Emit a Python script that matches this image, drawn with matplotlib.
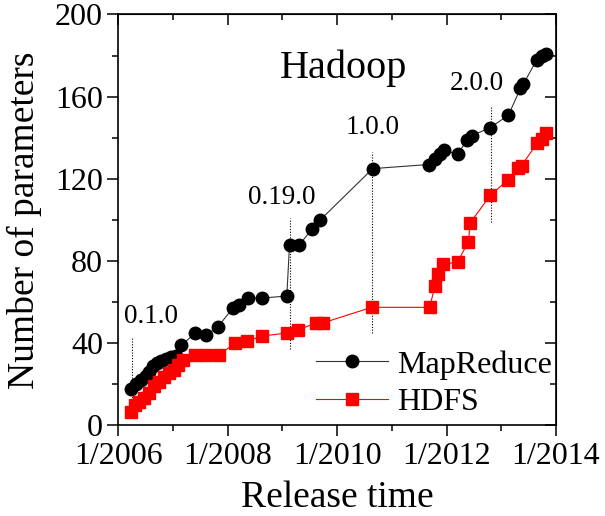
import matplotlib
matplotlib.use('Agg')
import matplotlib.pyplot as plt

plt.rcParams['font.family'] = ['Liberation Serif', 'DejaVu Serif']

# MapReduce: release date (fractional year) and number of parameters
mr_time = [2006.23, 2006.33, 2006.42, 2006.51, 2006.56, 2006.63, 2006.70, 2006.78,
           2006.87, 2006.97, 2007.06, 2007.15, 2007.41, 2007.61, 2007.82, 2008.09,
           2008.20, 2008.38, 2008.62, 2009.08, 2009.13, 2009.31, 2009.54, 2009.69,
           2010.65, 2011.67, 2011.79, 2011.88, 2011.95, 2012.20, 2012.38, 2012.46,
           2012.80, 2013.13, 2013.35, 2013.40, 2013.65, 2013.74, 2013.82]
mr_params = [18, 20, 22, 24, 26, 29, 30.5, 31.5,
             32.5, 33.5, 34, 39, 45, 44, 48, 57,
             58.5, 62, 62, 63, 88, 88, 95.5, 100,
             125, 127, 129.5, 132, 134, 132, 139, 141,
             145, 151, 164, 166, 178, 180, 181]

# HDFS
hdfs_time = [2006.23, 2006.31, 2006.38, 2006.47, 2006.56, 2006.65, 2006.74, 2006.83,
             2006.93, 2007.02, 2007.10, 2007.19, 2007.40, 2007.60, 2007.85, 2008.13,
             2008.35, 2008.62, 2009.08, 2009.29, 2009.62, 2009.75, 2010.63, 2011.69,
             2011.79, 2011.85, 2011.94, 2012.20, 2012.40, 2012.43, 2012.80, 2013.12,
             2013.31, 2013.37, 2013.66, 2013.74, 2013.81]
hdfs_params = [6.7, 10, 11.5, 13.5, 16, 19, 21, 23.5,
               25.5, 27, 29.5, 32, 34.5, 34.5, 34.5, 40,
               41, 43.5, 45, 46.5, 50, 50, 57.5, 57.5,
               68, 73.5, 78.5, 79.5, 89.5, 98.5, 112, 119.5,
               125.5, 126.5, 137.5, 139.5, 142.5]

# major versions
versions = ['0.1.0', '0.19.0', '1.0.0', '2.0.0']
version_time = [2006.25, 2009.14, 2010.63, 2012.81]
version_lo = [4, 37, 45, 99]
version_hi = [43, 101, 133, 155.5]

year_ticks = [2006, 2008, 2010, 2012, 2014]
year_labels = ['1/2006', '1/2008', '1/2010', '1/2012', '1/2014']

fig = plt.figure(figsize=(6.05, 5.16), dpi=100)
ax = fig.add_axes([0.1955, 0.1754, 0.7235, 0.7965])

ax.plot(mr_time, mr_params, color='#333333', lw=0.8, marker='o', ms=9,
        mfc='black', mec='black', label='MapReduce', zorder=3)
ax.plot(hdfs_time, hdfs_params, color='red', lw=0.8, marker='s', ms=8.5,
        mfc='red', mec='red', label='HDFS', zorder=3)

ax.vlines(version_time, version_lo, version_hi, colors='black',
          linestyles=(0, (1, 1.5)), lw=0.8, zorder=2)

# label placement (x, y) for each version tag
label_xy = [(2006.6, 53), (2008.99, 111), (2010.64, 144.8), (2012.55, 166.5)]
for name, (lx, ly) in zip(versions, label_xy):
    ax.text(lx, ly, name, fontsize=19.5, ha='center', va='center')

ax.text(2010.11, 169, 'Hadoop', fontsize=29, ha='center', va='baseline')

ax.set_xlim(2006, 2014)
ax.set_ylim(0, 200)
ax.set_xticks(year_ticks)
ax.set_xticklabels(year_labels)
ax.set_xticks(range(2007, 2014, 2), minor=True)
ax.set_yticks(range(0, 201, 40))
ax.set_yticks(range(20, 200, 40), minor=True)

ax.tick_params(which='both', direction='out', width=1.1, labelsize=23)
ax.tick_params(which='major', length=8)
ax.tick_params(which='minor', length=4.5)
ax.tick_params(axis='x', pad=4)
ax.tick_params(axis='y', pad=3)
for s in ax.spines.values():
    s.set_linewidth(1.2)

# top and right ticks point into the plot
top = ax.secondary_xaxis('top')
top.set_xticks(year_ticks)
top.set_xticks(range(2007, 2014, 2), minor=True)
top.tick_params(which='both', direction='in', labeltop=False, width=1.1)
top.tick_params(which='major', length=8)
top.tick_params(which='minor', length=4.5)
right = ax.secondary_yaxis('right')
right.set_yticks(range(0, 201, 40))
right.set_yticks(range(20, 200, 40), minor=True)
right.tick_params(which='both', direction='in', labelright=False, width=1.1)
right.tick_params(which='major', length=8)
right.tick_params(which='minor', length=4.5)

ax.set_xlabel('Release time', fontsize=27, labelpad=7)
ax.set_ylabel('Number of parameters', fontsize=27, labelpad=9)

ax.legend(loc='center left', bbox_to_anchor=(0.452, 0.102), frameon=False,
          fontsize=23, handlelength=2.25, handletextpad=0.27, labelspacing=0.25,
          borderpad=0, borderaxespad=0)

fig.savefig('out.png', dpi=100)
